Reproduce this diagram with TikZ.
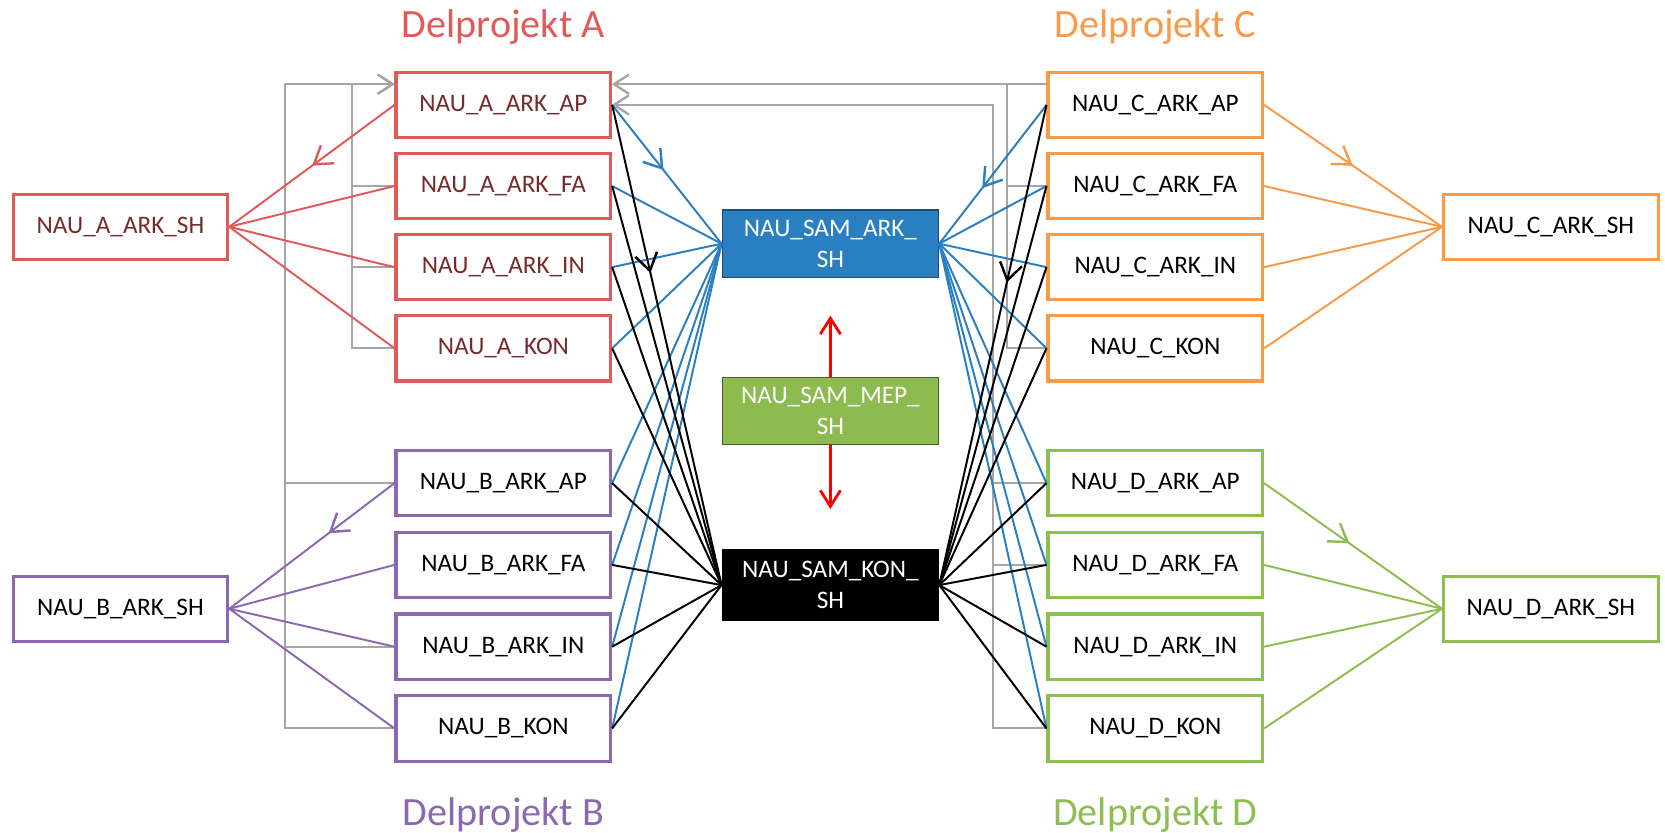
\documentclass[tikz,border=0pt]{standalone}
\usepackage{fontspec}
\setmainfont{Carlito}
\usetikzlibrary{arrows.meta, positioning, decorations.markings}

\definecolor{delA}{HTML}{E05A5A}
\definecolor{delAtext}{HTML}{782A2A}
\definecolor{delB}{HTML}{8C69AF}
\definecolor{delC}{HTML}{F99A48}
\definecolor{delD}{HTML}{8DBE50}
\definecolor{samblue}{HTML}{2A7FC1}
\definecolor{samgreen}{HTML}{8DBB50}
\definecolor{linegray}{HTML}{A6A6A6}

\tikzset{
  model/.style={rectangle, draw, line width=1.7pt, fill=white, minimum width=4.04cm, minimum height=1.23cm, inner sep=0pt, font=\fontsize{13.5}{16.8}\selectfont},
  sam/.style={rectangle, draw, line width=0.6pt, minimum width=4.08cm, minimum height=1.27cm, inner sep=0pt, align=center, text=white, font=\fontsize{13.5}{16.8}\selectfont},
  title/.style={anchor=base, font=\fontsize{21.5}{26}\selectfont},
  grayline/.style={draw=linegray, line width=1.05pt},
  fanline/.style={line width=1.05pt},
  midarrow/.style={postaction={decorate}, decoration={markings, mark=at position #1 with {\arrow[line width=1.3pt]{Straight Barb[length=3.2mm,width=4.2mm]}}}},
  >={Straight Barb[length=2.8mm,width=3.6mm]}
}

\begin{document}
\begin{tikzpicture}
    \useasboundingbox (0,0) rectangle (31.36,-15.68);

    \node[title, text=delA] (TitleA) at (9.48,-0.70) {Delprojekt A};
    \node[title, text=delB] (TitleB) at (9.48,-15.54) {Delprojekt B};
    \node[title, text=delC] (TitleC) at (21.76,-0.70) {Delprojekt C};
    \node[title, text=delD] (TitleD) at (21.76,-15.54) {Delprojekt D};

    \node[model, draw=delA, text=delAtext] (AAP) at (9.48,-1.976) {NAU\_A\_ARK\_AP};
    \node[model, draw=delA, text=delAtext] (AFA) at ([yshift=-1.528cm] AAP) {NAU\_A\_ARK\_FA};
    \node[model, draw=delA, text=delAtext] (AIN) at ([yshift=-1.528cm] AFA) {NAU\_A\_ARK\_IN};
    \node[model, draw=delA, text=delAtext] (AKON) at ([yshift=-1.528cm] AIN) {NAU\_A\_KON};
    \node[model, draw=delA, text=delAtext] (ASH) at (2.268,-4.272) {NAU\_A\_ARK\_SH};

    \node[model, draw=delB] (BAP) at (9.48,-9.10) {NAU\_B\_ARK\_AP};
    \node[model, draw=delB] (BFA) at ([yshift=-1.54cm] BAP) {NAU\_B\_ARK\_FA};
    \node[model, draw=delB] (BIN) at ([yshift=-1.54cm] BFA) {NAU\_B\_ARK\_IN};
    \node[model, draw=delB] (BKON) at ([yshift=-1.54cm] BIN) {NAU\_B\_KON};
    \node[model, draw=delB] (BSH) at (2.268,-11.466) {NAU\_B\_ARK\_SH};

    \node[model, draw=delC] (CAP) at (21.76,-1.976) {NAU\_C\_ARK\_AP};
    \node[model, draw=delC] (CFA) at ([yshift=-1.528cm] CAP) {NAU\_C\_ARK\_FA};
    \node[model, draw=delC] (CIN) at ([yshift=-1.528cm] CFA) {NAU\_C\_ARK\_IN};
    \node[model, draw=delC] (CKON) at ([yshift=-1.528cm] CIN) {NAU\_C\_KON};
    \node[model, draw=delC] (CSH) at (29.21,-4.272) {NAU\_C\_ARK\_SH};

    \node[model, draw=delD] (DAP) at (21.76,-9.10) {NAU\_D\_ARK\_AP};
    \node[model, draw=delD] (DFA) at ([yshift=-1.54cm] DAP) {NAU\_D\_ARK\_FA};
    \node[model, draw=delD] (DIN) at ([yshift=-1.54cm] DFA) {NAU\_D\_ARK\_IN};
    \node[model, draw=delD] (DKON) at ([yshift=-1.54cm] DIN) {NAU\_D\_KON};
    \node[model, draw=delD] (DSH) at (29.21,-11.466) {NAU\_D\_ARK\_SH};

    \node[sam, fill=samblue, draw=samblue!60!black] (SamArk) at (15.64,-4.59) {NAU\_SAM\_ARK\_\\SH};
    \node[sam, fill=samgreen, draw=samgreen!50!black] (SamMep) at (15.64,-7.74) {NAU\_SAM\_MEP\_\\SH};
    \node[sam, fill=black, draw=black, minimum height=1.32cm] (SamKon) at (15.64,-11.02) {NAU\_SAM\_KON\_\\SH};

    \coordinate (MepUp) at ([yshift=1.15cm] SamMep.north);
    \coordinate (MepDown) at ([yshift=-1.2cm] SamMep.south);
    \draw[red, line width=1.5pt, -{Straight Barb[length=3mm,width=3.8mm]}] (SamMep.north) -- (MepUp);
    \draw[red, line width=1.5pt, -{Straight Barb[length=3mm,width=3.8mm]}] (SamMep.south) -- (MepDown);

    \foreach \m in {AFA,AIN,AKON}
        \draw[grayline, ->] (\m.west) -- ++(-0.8,0) |- ([yshift=0.39cm] AAP.west);
    \foreach \m in {BAP,BIN,BKON}
        \draw[grayline, ->] (\m.west) -- ++(-2.07,0) |- ([yshift=0.39cm] AAP.west);
    \draw[grayline, ->] ([yshift=0.39cm] CAP.west) -- ([yshift=0.39cm] AAP.east);
    \foreach \m in {CFA,CKON}
        \draw[grayline, ->] (\m.west) -- ++(-0.75,0) |- ([yshift=0.39cm] AAP.east);
    \foreach \m in {DAP,DFA,DKON}
        \draw[grayline, ->] (\m.west) -- ++(-1.01,0) |- (AAP.east);

    \draw[fanline, delA, midarrow=0.5] (AAP.west) -- (ASH.east);
    \foreach \m in {AFA,AIN,AKON}
        \draw[fanline, delA] (\m.west) -- (ASH.east);
    \draw[fanline, delB, midarrow=0.4] (BAP.west) -- (BSH.east);
    \foreach \m in {BFA,BIN,BKON}
        \draw[fanline, delB] (\m.west) -- (BSH.east);
    \draw[fanline, delC, midarrow=0.5] (CAP.east) -- (CSH.west);
    \foreach \m in {CFA,CIN,CKON}
        \draw[fanline, delC] (\m.east) -- (CSH.west);
    \draw[fanline, delD, midarrow=0.48] (DAP.east) -- (DSH.west);
    \foreach \m in {DFA,DIN,DKON}
        \draw[fanline, delD] (\m.east) -- (DSH.west);

    \draw[fanline, samblue, midarrow=0.47] (AAP.east) -- (SamArk.west);
    \draw[fanline, samblue, midarrow=0.6] (CAP.west) -- (SamArk.east);
    \foreach \m in {AFA,AIN,AKON,BAP,BFA,BIN,BKON}
        \draw[fanline, samblue] (\m.east) -- (SamArk.west);
    \foreach \m in {CFA,CIN,CKON,DAP,DFA,DIN,DKON}
        \draw[fanline, samblue] (\m.west) -- (SamArk.east);

    \draw[fanline, black, midarrow=0.35] (AAP.east) -- (SamKon.west);
    \draw[fanline, black, midarrow=0.37] (CAP.west) -- (SamKon.east);
    \foreach \m in {AFA,AIN,AKON,BAP,BFA,BIN,BKON}
        \draw[fanline, black] (\m.east) -- (SamKon.west);
    \foreach \m in {CFA,CIN,CKON,DAP,DFA,DIN,DKON}
        \draw[fanline, black] (\m.west) -- (SamKon.east);
\end{tikzpicture}
\end{document}
